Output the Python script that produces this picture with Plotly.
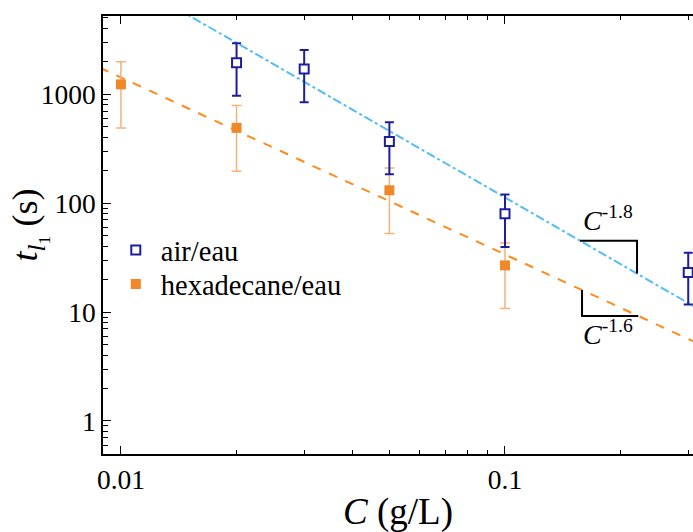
import numpy as np
import plotly.graph_objects as go

# ---- data ----
conc_air = [0.02, 0.03, 0.05, 0.1, 0.3]
t_air = [1940, 1700, 367, 80, 23]
t_air_hi = [2925, 2535, 553, 120, 35]
t_air_lo = [965, 844, 184, 39.5, 11.7]

conc_hex = [0.01, 0.02, 0.05, 0.1]
t_hex = [1228, 490, 131, 26.8]
t_hex_hi = [1982, 787, 210, 43]
t_hex_lo = [490, 196, 52.5, 10.8]

# power-law guide lines  t = A * C**p
fit_x = [0.008, 0.35]
fit_air_A, fit_air_p = 1.05, -2.03
fit_hex_A, fit_hex_p = 0.8, -1.625

# slope triangles (x extents)
tri_air_x = [0.1568, 0.2207]
tri_hex_x = [0.1587, 0.2224]

x_tickvals = [0.01, 0.1]
x_ticktext = ["0.01", "0.1"]
y_tickvals = [1, 10, 100, 1000]
y_ticktext = ["1", "10", "100", "1000"]

FONT = "Liberation Serif"
NAVY = "#1e1e9c"
ORANGE = "#f0882a"
ORANGE_ERR = "#f5b27a"
LINE_ORANGE = "#ff8a1c"
LINE_BLUE = "#52bdf5"


def power(A, p, xs):
    xs = np.asarray(xs, dtype=float)
    return A * xs ** p


fig = go.Figure()

# guide lines
fig.add_trace(go.Scatter(x=fit_x, y=power(fit_air_A, fit_air_p, fit_x), mode="lines",
                         line=dict(color=LINE_BLUE, width=2, dash="dashdot"),
                         showlegend=False, hoverinfo="skip"))
fig.add_trace(go.Scatter(x=fit_x, y=power(fit_hex_A, fit_hex_p, fit_x), mode="lines",
                         line=dict(color=LINE_ORANGE, width=2, dash="dash"),
                         showlegend=False, hoverinfo="skip"))

# slope triangles
ya = power(fit_air_A, fit_air_p, tri_air_x)
fig.add_trace(go.Scatter(x=[tri_air_x[0], tri_air_x[1], tri_air_x[1]],
                         y=[ya[0], ya[0], ya[1]], mode="lines",
                         line=dict(color="black", width=2), showlegend=False, hoverinfo="skip"))
yh = power(fit_hex_A, fit_hex_p, tri_hex_x)
fig.add_trace(go.Scatter(x=[tri_hex_x[0], tri_hex_x[0], tri_hex_x[1]],
                         y=[yh[0], yh[1], yh[1]], mode="lines",
                         line=dict(color="black", width=2), showlegend=False, hoverinfo="skip"))

# data
fig.add_trace(go.Scatter(
    x=conc_hex, y=t_hex, mode="markers", name="hexadecane/eau", legend="legend2",
    marker=dict(symbol="square", size=10, color=ORANGE, line=dict(width=0)),
    error_y=dict(type="data", symmetric=False,
                 array=[h - v for h, v in zip(t_hex_hi, t_hex)],
                 arrayminus=[v - l for v, l in zip(t_hex, t_hex_lo)],
                 color=ORANGE_ERR, thickness=1.5, width=5)))
fig.add_trace(go.Scatter(
    x=conc_air, y=t_air, mode="markers", name="air/eau", legend="legend",
    marker=dict(symbol="square", size=9, color="white", line=dict(width=2, color=NAVY)),
    error_y=dict(type="data", symmetric=False,
                 array=[h - v for h, v in zip(t_air_hi, t_air)],
                 arrayminus=[v - l for v, l in zip(t_air, t_air_lo)],
                 color=NAVY, thickness=2, width=4.5)))

# slope labels
fig.add_annotation(x=np.log10(0.158), y=np.log10(48), xref="x", yref="y",
                   text="<i>C</i><sup>-1.8</sup>", showarrow=False,
                   xanchor="left", yanchor="bottom",
                   font=dict(family=FONT, size=28, color="black"))
fig.add_annotation(x=np.log10(0.158), y=np.log10(9.9), xref="x", yref="y",
                   text="<i>C</i><sup>-1.6</sup>", showarrow=False,
                   xanchor="left", yanchor="top",
                   font=dict(family=FONT, size=28, color="black"))

# axis titles as annotations
fig.add_annotation(x=0.5, y=-0.1324, xref="paper", yref="paper",
                   text="<i>C</i> (g/L)", showarrow=False,
                   xanchor="center", yanchor="middle",
                   font=dict(family=FONT, size=37, color="black"))
fig.add_annotation(x=-0.125, y=0.5224, xref="paper", yref="paper",
                   text="<i>t</i><sub><i>l</i><sub>1</sub></sub> (s)", showarrow=False,
                   textangle=-90, xanchor="center", yanchor="middle",
                   font=dict(family=FONT, size=36, color="black"))

axis_common = dict(type="log", showgrid=False, zeroline=False,
                   showline=True, linecolor="black", linewidth=1.5,
                   ticks="inside", ticklen=8, tickwidth=1.2, tickcolor="black",
                   tickfont=dict(family=FONT, size=27.5, color="black"))

fig.update_xaxes(**axis_common, range=[np.log10(0.00898), np.log10(0.3087)],
                 tickmode="array", tickvals=x_tickvals, ticktext=x_ticktext,
                 mirror="ticks",
                 minor=dict(ticks="inside", ticklen=4, tickwidth=1.2, tickcolor="black",
                            dtick="D1", showgrid=False))
fig.update_yaxes(**axis_common, range=[-0.303, 3.717],
                 tickmode="array", tickvals=y_tickvals, ticktext=y_ticktext,
                 minor=dict(ticks="inside", ticklen=5, tickwidth=1.2, tickcolor="black",
                            dtick="D1", showgrid=False))

legend_common = dict(xanchor="left", yanchor="top", bgcolor="rgba(0,0,0,0)",
                     font=dict(family=FONT, size=28.5, color="black"),
                     itemwidth=40)

fig.update_layout(
    width=693, height=532,
    margin=dict(l=103, r=0, t=16, b=78),
    plot_bgcolor="white", paper_bgcolor="white",
    font=dict(family=FONT, color="black"),
    legend=dict(x=0.0132, y=0.5228, **legend_common),
    legend2=dict(x=0.0132, y=0.4452, **legend_common),
)

fig.write_html("out.html", config={"displayModeBar": False},
               post_script="document.body.style.margin='0';")
